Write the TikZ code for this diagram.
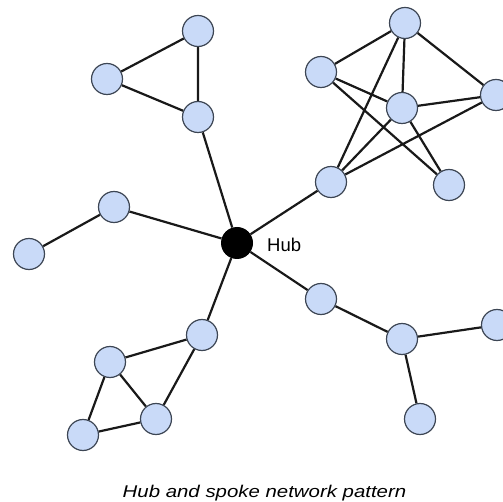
\documentclass[tikz,border=0pt]{standalone}
\usepackage{fontspec}
\setmainfont{Liberation Sans}
\usetikzlibrary{backgrounds}
\begin{document}
\begin{tikzpicture}[x=1pt,y=-1pt,
  nd/.style={circle,draw=nodeborder,line width=1.2pt,fill=nodeblue,minimum size=31pt,inner sep=0pt},
  hub/.style={circle,fill=black,minimum size=32pt,inner sep=0pt},
  edge/.style={line width=2.2pt,black!90}]
\definecolor{nodeblue}{HTML}{C9DAF8}
\definecolor{nodeborder}{HTML}{3D4654}
\useasboundingbox (0,0) rectangle (503,502);
% nodes
\node[hub] (hub) at (237,243) {};
\node[anchor=west,inner sep=0pt,font=\fontsize{18.5}{20}\selectfont] (hublbl) at (267,245) {Hub};
% top-left triangle
\node[nd] (t1) at (198,31) {};
\node[nd] (t2) at (107,79) {};
\node[nd] (t3) at (198,117) {};
% top-right cluster
\node[nd] (a) at (405,23) {};
\node[nd] (b) at (321,72) {};
\node[nd] (c) at (402,108) {};
\node[nd] (d) at (496,95) {};
\node[nd] (e) at (449,185) {};
\node[nd] (f) at (331,182) {};
% left
\node[nd] (l1) at (114,207) {};
\node[nd] (l2) at (29,254) {};
% bottom-left
\node[nd] (g1) at (202,335) {};
\node[nd] (g2) at (110,362) {};
\node[nd] (g3) at (156,419) {};
\node[nd] (g4) at (83,435) {};
% bottom-right
\node[nd] (r1) at (321,299) {};
\node[nd] (r2) at (402,339) {};
\node[nd] (r3) at (497,325) {};
\node[nd] (r4) at (420,419) {};
% caption
\node[anchor=base,inner sep=0pt,font=\itshape\fontsize{17}{19}\selectfont] (cap) at (264.5,497) {\scalebox{1.2}[1]{Hub and spoke network pattern}};
% edges
\begin{pgfonlayer}{background}
\draw[edge] (t1) -- (t2) (t2) -- (t3) (t1) -- (t3) (t3) -- (hub);
\draw[edge] (a) -- (b) (a) -- (c) (a) -- (d) (a) -- (f)
  (b) -- (c) (b) -- (e) (c) -- (d) (c) -- (f) (c) -- (e) (f) -- (d) (f) -- (hub);
\draw[edge] (hub) -- (l1) (l1) -- (l2);
\draw[edge] (hub) -- (g1) (g1) -- (g2) (g1) -- (g3) (g2) -- (g3) (g2) -- (g4) (g4) -- (g3);
\draw[edge] (hub) -- (r1) (r1) -- (r2) (r2) -- (r3) (r2) -- (r4);
\end{pgfonlayer}
\end{tikzpicture}
\end{document}
